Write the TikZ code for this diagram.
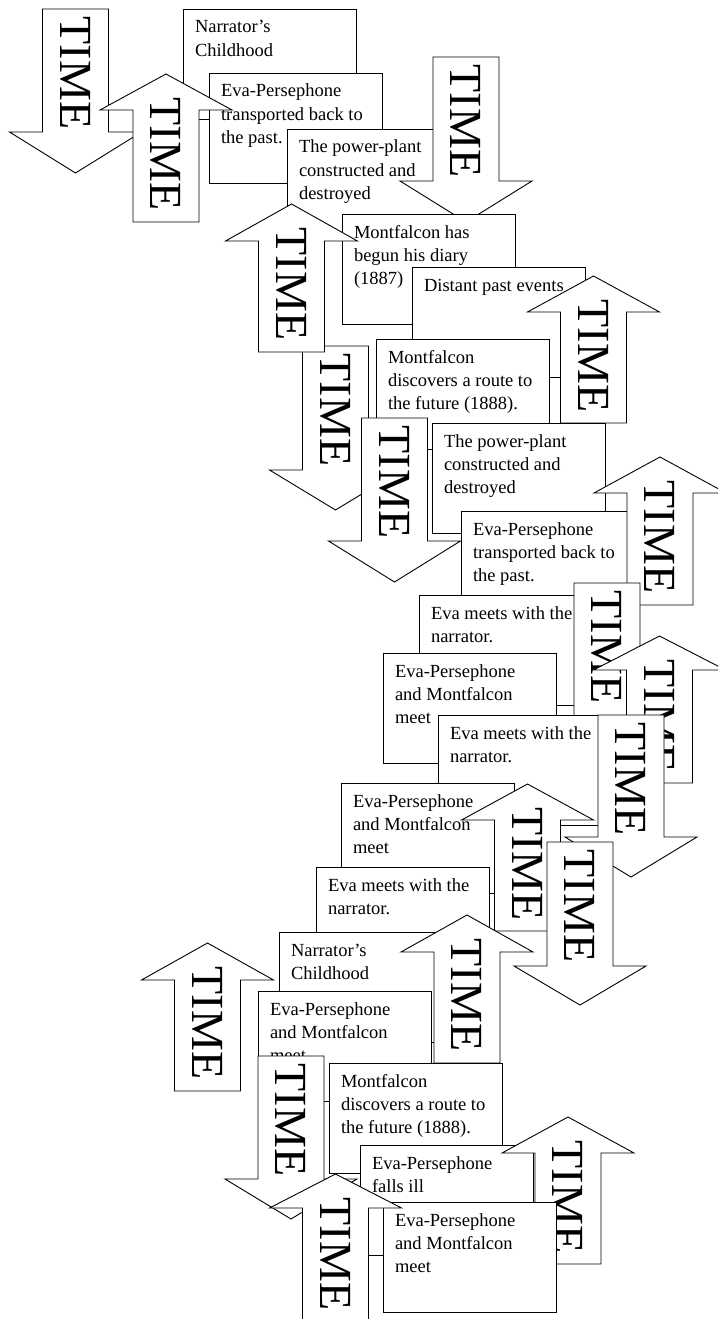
\documentclass[tikz,border=0pt]{standalone}
\usepackage{fontspec}
\setmainfont{Liberation Serif}
\newcommand{\boxtxt}[1]{\parbox[t][110pt][t]{173pt}{\raggedright\leftskip=12pt\fontsize{18.5}{23.3}\selectfont\rule{0pt}{24pt}#1}}
\tikzset{
  arrowshape/.style={draw=black, fill=white, line width=0.9pt, line join=miter},
  timetext/.style={rotate=-90, font=\fontsize{46}{46}\selectfont, inner sep=0pt},
  evbox/.style={draw=black, fill=white, line width=0.9pt, inner sep=0pt, outer sep=0pt, anchor=north west}
}
% down arrow: name, centre x, top, wing line, tip
\newcommand{\timedown}[5]{%
  \filldraw[arrowshape] ({#2-33},{#3}) -- ({#2+33},{#3}) -- ({#2+33},{#4}) -- ({#2+66},{#4}) -- ({#2},{#5}) -- ({#2-66},{#4}) -- ({#2-33},{#4}) -- cycle;
  \node[timetext] (#1) at ({#2},{#3+64}) {TIME};}
% up arrow: name, centre x, tip, wing line, bottom
\newcommand{\timeup}[5]{%
  \filldraw[arrowshape] ({#2},{#3}) -- ({#2+66},{#4}) -- ({#2+33},{#4}) -- ({#2+33},{#5}) -- ({#2-33},{#5}) -- ({#2-33},{#4}) -- ({#2-66},{#4}) -- cycle;
  \node[timetext] (#1) at ({#2},{#3+80}) {TIME};}
\begin{document}
\begin{tikzpicture}[x=1pt,y=-1pt]
\useasboundingbox (0,0) rectangle (718,1319);
\clip (0,0) rectangle (718,1319);
\fill[white] (0,0) rectangle (718,1319);

\timedown{A1}{75.5}{9}{132}{173}
\node[evbox] (B1) at (183,9) {\boxtxt{Narrator’s\\Childhood}};
\node[evbox] (B2) at (209,73) {\boxtxt{Eva-Persephone\\transported back to\\the past.}};
\timeup{A2}{166}{74}{110}{222}
\node[evbox] (B3) at (287,129) {\boxtxt{The power-plant\\constructed and\\destroyed}};
\timedown{A3}{466}{57}{181}{222}
\node[evbox] (B4) at (342,214) {\boxtxt{Montfalcon has\\begun his diary\\(1887)}};
\timedown{A6}{335.5}{346}{470}{510}
\timeup{A4}{291.5}{204}{241}{352}
\node[evbox] (B5) at (412,267) {\boxtxt{Distant past events}};
\timeup{A5}{593.5}{276}{312}{423}
\node[evbox] (B6) at (376,339) {\boxtxt{Montfalcon\\discovers a route to\\the future (1888).}};
\timedown{A7}{394.5}{418}{541}{582}
\node[evbox] (B7) at (432,423) {\boxtxt{The power-plant\\constructed and\\destroyed}};
\node[evbox] (B8) at (461,511) {\boxtxt{Eva-Persephone\\transported back to\\the past.}};
\timeup{A8}{660}{457}{493}{605}
\node[evbox] (B9) at (419,595) {\boxtxt{Eva meets with the\\narrator.}};
\timedown{A9}{607}{583}{725}{765}
\timeup{A10}{659.5}{636}{670}{783}
\node[evbox] (B10) at (383,653) {\boxtxt{Eva-Persephone\\and Montfalcon\\meet}};
\node[evbox] (B11) at (438,715) {\boxtxt{Eva meets with the\\narrator.}};
\timedown{A11}{631}{715}{837}{877}
\node[evbox] (B12) at (341,783) {\boxtxt{Eva-Persephone\\and Montfalcon\\meet}};
\timeup{A12}{527.5}{784}{820}{931}
\timedown{A13}{580}{842}{966}{1005}
\node[evbox] (B13) at (316,867) {\boxtxt{Eva meets with the\\narrator.}};
\node[evbox] (B14) at (279,932) {\boxtxt{Narrator’s\\Childhood}};
\timeup{A14}{467}{915}{952}{1063}
\node[evbox] (B15) at (258,991) {\boxtxt{Eva-Persephone\\and Montfalcon\\meet}};
\timeup{A15}{207.5}{943}{980}{1091}
\timedown{A16}{291}{1056}{1179}{1219}
\node[evbox] (B16) at (329,1063) {\boxtxt{Montfalcon\\discovers a route to\\the future (1888).}};
\node[evbox] (B17) at (360,1145) {\boxtxt{Eva-Persephone\\falls ill}};
\timeup{A18}{568}{1117}{1153}{1264}
\node[evbox] (B18) at (383,1202) {\boxtxt{Eva-Persephone\\and Montfalcon\\meet}};
\timeup{A17}{335.5}{1174}{1208}{1322}
\end{tikzpicture}
\end{document}
